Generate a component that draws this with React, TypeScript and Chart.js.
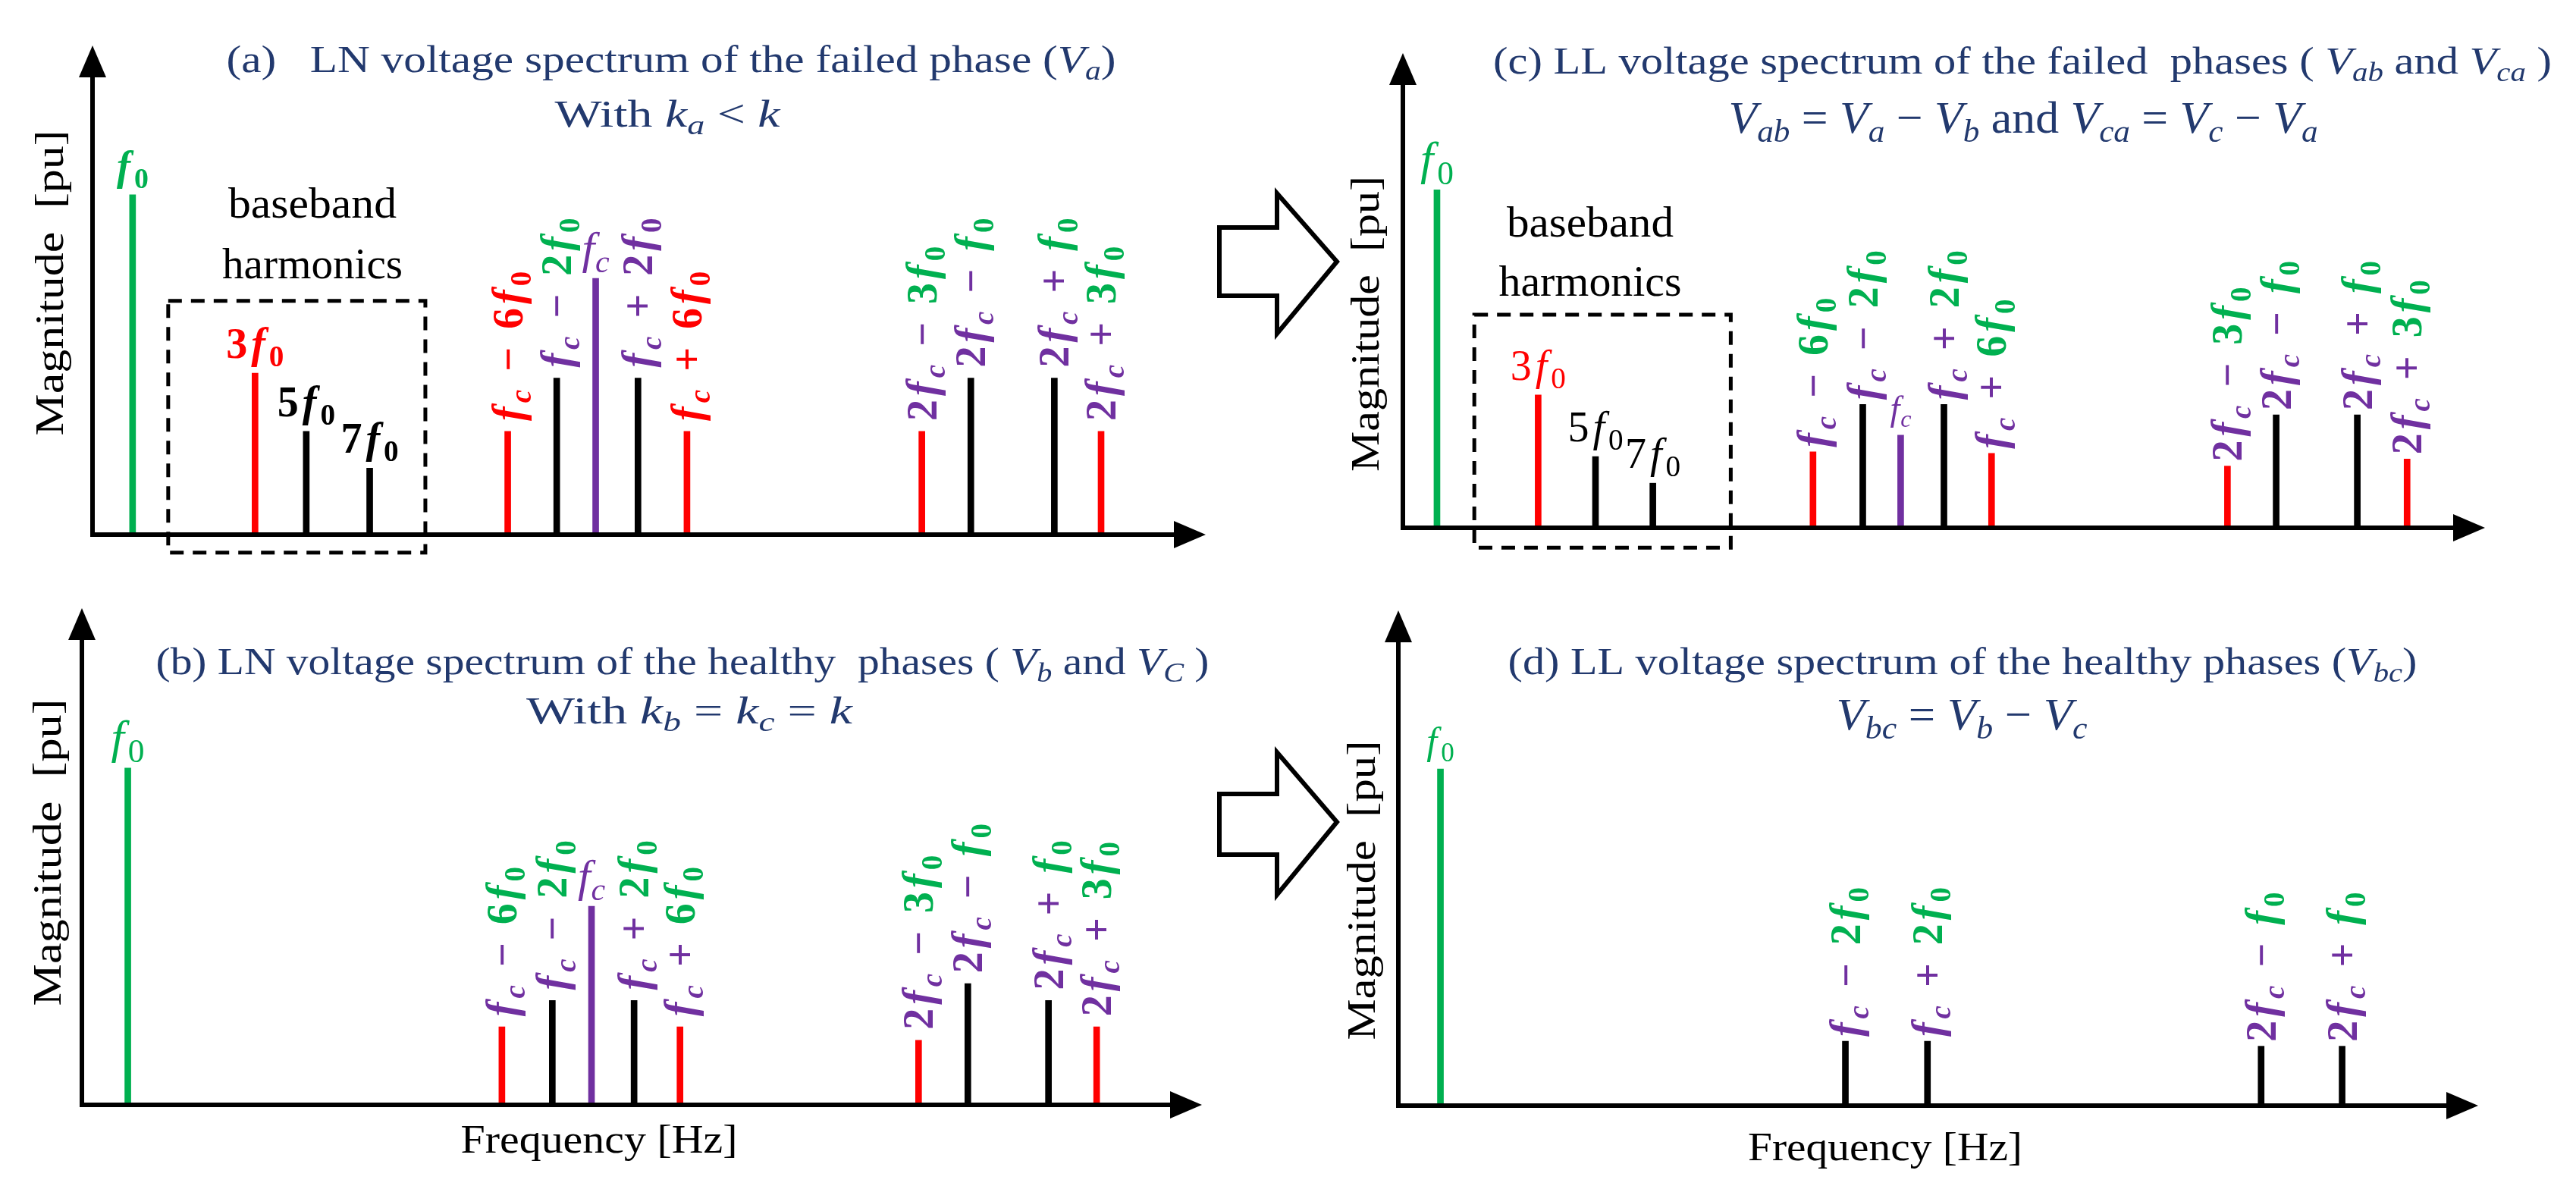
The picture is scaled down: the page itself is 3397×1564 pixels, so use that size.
import React, { useEffect, useRef } from "react";
import { Chart, registerables } from "chart.js";

Chart.register(...registerables);

const SERIF = '"Liberation Serif", "Times New Roman", serif';
const INK: Record<string, string> = {
  G: "#00B050",
  R: "#FF0000",
  P: "#7030A0",
  K: "#000000",
  T: "#22396E",
};

type Seg = [string, string];

// ---------- panel (a): LN spectrum, failed phase ----------
const A_POS = [3.6, 14.6, 19.2, 24.9, 37.3, 41.7, 45.2, 49.0, 53.4, 74.5, 78.9, 86.4, 90.6];
const A_MAG = [0.695, 0.33, 0.211, 0.136, 0.211, 0.32, 0.524, 0.32, 0.211, 0.211, 0.32, 0.32, 0.211];
const A_BAR = ["G", "R", "K", "K", "R", "K", "P", "K", "R", "R", "K", "K", "R"];
const A_LBL: Seg[][] = [
  [["f_0", "G"]],
  [["3f_0", "R"]],
  [["5f_0", "K"]],
  [["7f_0", "K"]],
  [["f_c − 6f_0", "R"]],
  [["f_c − ", "P"], ["2f_0", "G"]],
  [["f_c", "P"]],
  [["f_c + 2f_0", "P"]],
  [["f_c + 6f_0", "R"]],
  [["2f_c − ", "P"], ["3f_0", "G"]],
  [["2f_c − ", "P"], ["f_0", "G"]],
  [["2f_c + ", "P"], ["f_0", "G"]],
  [["2f_c + ", "P"], ["3f_0", "G"]],
];

// ---------- panel (b): LN spectrum, healthy phases ----------
const B_POS = [4.1, 37.5, 42.0, 45.5, 49.3, 53.4, 74.7, 79.1, 86.3, 90.6];
const B_MAG = [0.678, 0.157, 0.21, 0.4, 0.21, 0.157, 0.13, 0.244, 0.21, 0.157];
const B_BAR = ["G", "R", "K", "P", "K", "R", "R", "K", "K", "R"];
const B_LBL: Seg[][] = [
  [["f_0", "G"]],
  [["f_c − ", "P"], ["6f_0", "G"]],
  [["f_c − ", "P"], ["2f_0", "G"]],
  [["f_c", "P"]],
  [["f_c + ", "P"], ["2f_0", "G"]],
  [["f_c + ", "P"], ["6f_0", "G"]],
  [["2f_c − ", "P"], ["3f_0", "G"]],
  [["2f_c − ", "P"], ["f_0", "G"]],
  [["2f_c + ", "P"], ["f_0", "G"]],
  [["2f_c + ", "P"], ["3f_0", "G"]],
];

// ---------- panel (c): LL spectrum, failed phases ----------
const C_POS = [3.15, 12.5, 17.8, 23.1, 37.9, 42.5, 46.0, 50.0, 54.4, 76.2, 80.7, 88.2, 92.8];
const C_MAG = [0.712, 0.28, 0.15, 0.094, 0.16, 0.26, 0.195, 0.26, 0.157, 0.13, 0.238, 0.238, 0.145];
const C_BAR = ["G", "R", "K", "K", "R", "K", "P", "K", "R", "R", "K", "K", "R"];
const C_LBL: Seg[][] = [
  [["f_0", "G"]],
  [["3f_0", "R"]],
  [["5f_0", "K"]],
  [["7f_0", "K"]],
  [["f_c − ", "P"], ["6f_0", "G"]],
  [["f_c − ", "P"], ["2f_0", "G"]],
  [["f_c", "P"]],
  [["f_c + ", "P"], ["2f_0", "G"]],
  [["f_c + ", "P"], ["6f_0", "G"]],
  [["2f_c − ", "P"], ["3f_0", "G"]],
  [["2f_c − ", "P"], ["f_0", "G"]],
  [["2f_c + ", "P"], ["f_0", "G"]],
  [["2f_c + ", "P"], ["3f_0", "G"]],
];

// ---------- panel (d): LL spectrum, healthy phases ----------
const D_POS = [3.9, 41.4, 49.0, 79.9, 87.4];
const D_MAG = [0.68, 0.13, 0.13, 0.12, 0.12];
const D_BAR = ["G", "K", "K", "K", "K"];
const D_LBL: Seg[][] = [
  [["f_0", "G"]],
  [["f_c − ", "P"], ["2f_0", "G"]],
  [["f_c + ", "P"], ["2f_0", "G"]],
  [["2f_c − ", "P"], ["f_0", "G"]],
  [["2f_c + ", "P"], ["f_0", "G"]],
];

const Y_LABEL = "Magnitude  [pu]";
const X_LABEL = "Frequency [Hz]";
const BASEBAND = ["baseband", "harmonics"];

const W = 3397;
const ROW_H = 782;

interface Panel {
  id: string;
  row: number;
  xs: number[];
  ys: number[];
  bar: string[];
  lbl: Seg[][];
  pad: { left: number; top: number; right: number; bottom: number };
  titles: { text: string; x: number; y: number; w: number; size: number }[];
  yTitle: { x: number; y: number; len: number };
  xTitle?: { x: number; y: number; w: number };
  box?: { x0: number; x1: number; y0: number; y1: number };
  notes?: { x: number; y: number; w: number }[];
  arrow?: { left: number; sTop: number; sBot: number; hx: number; hTop: number; hBot: number; tx: number; ty: number };
  st: { f0Size: number; fcSize: number; hSize: number; hBold: boolean; f0Bold: boolean; vSize: number; vGap: number; hGap: number };
}

const PANELS: Panel[] = [
  {
    id: "a",
    row: 0,
    xs: A_POS,
    ys: A_MAG,
    bar: A_BAR,
    lbl: A_LBL,
    pad: { left: 122, top: 60, right: W - 1590, bottom: ROW_H - 705 },
    titles: [
      { text: "(a)   LN voltage spectrum of the failed phase ($V_a$)", x: 885, y: 95, w: 1173, size: 50 },
      { text: "With $k_a < k$", x: 880, y: 167, w: 297, size: 50 },
    ],
    yTitle: { x: 65, y: 373, len: 403 },
    box: { x0: 6.8, x1: 29.9, y0: -0.037, y1: 0.478 },
    notes: [
      { x: 412, y: 287, w: 222 },
      { x: 412, y: 367, w: 238 },
    ],
    st: { f0Size: 54, fcSize: 60, hSize: 56, hBold: true, f0Bold: true, vSize: 56, vGap: 14, hGap: 20 },
  },
  {
    id: "c",
    row: 0,
    xs: C_POS,
    ys: C_MAG,
    bar: C_BAR,
    lbl: C_LBL,
    pad: { left: 1850, top: 70, right: W - 3277, bottom: ROW_H - 696 },
    titles: [
      { text: "(c) LL voltage spectrum of the failed  phases ( $V_{ab}$ and $V_{ca}$ )", x: 2667, y: 97, w: 1396, size: 50 },
      { text: "$V_{ab} = V_a − V_b$ and $V_{ca} = V_c − V_a$", x: 2668, y: 175, w: 777, size: 60 },
    ],
    yTitle: { x: 1800, y: 427, len: 390 },
    box: { x0: 6.6, x1: 30.3, y0: -0.042, y1: 0.449 },
    notes: [
      { x: 2097, y: 312, w: 220 },
      { x: 2097, y: 390, w: 241 },
    ],
    arrow: { left: 1608, sTop: 300, sBot: 390, hx: 1684, hTop: 255, hBot: 440, tx: 1763, ty: 345 },
    st: { f0Size: 62, fcSize: 46, hSize: 56, hBold: false, f0Bold: false, vSize: 56, vGap: 6, hGap: 20 },
  },
  {
    id: "b",
    row: 1,
    xs: B_POS,
    ys: B_MAG,
    bar: B_BAR,
    lbl: B_LBL,
    pad: { left: 108, top: 20, right: W - 1585, bottom: ROW_H - 675 },
    titles: [
      { text: "(b) LN voltage spectrum of the healthy  phases ( $V_b$ and $V_C$ )", x: 900, y: 107, w: 1389, size: 50 },
      { text: "With $k_b = k_c = k$", x: 909, y: 172, w: 430, size: 50 },
    ],
    yTitle: { x: 62, y: 342, len: 405 },
    xTitle: { x: 790, y: 720, w: 365 },
    st: { f0Size: 62, fcSize: 60, hSize: 56, hBold: false, f0Bold: false, vSize: 56, vGap: 14, hGap: 20 },
  },
  {
    id: "d",
    row: 1,
    xs: D_POS,
    ys: D_MAG,
    bar: D_BAR,
    lbl: D_LBL,
    pad: { left: 1844, top: 23, right: W - 3268, bottom: ROW_H - 676 },
    titles: [
      { text: "(d) LL voltage spectrum of the healthy phases ($V_{bc}$)", x: 2588, y: 107, w: 1199, size: 50 },
      { text: "$V_{bc} = V_b − V_c$", x: 2587, y: 180, w: 331, size: 60 },
    ],
    yTitle: { x: 1795, y: 392, len: 395 },
    xTitle: { x: 2486, y: 730, w: 362 },
    arrow: { left: 1608, sTop: 265, sBot: 345, hx: 1684, hTop: 210, hBot: 398, tx: 1763, ty: 302 },
    st: { f0Size: 50, fcSize: 50, hSize: 56, hBold: false, f0Bold: false, vSize: 56, vGap: 6, hGap: 20 },
  },
];

// ---------- rich text helpers ----------
type Run = { t: string; it: boolean; sub: boolean; color: string };

function parseMarkup(src: string, color: string, mathAll: boolean): Run[] {
  const runs: Run[] = [];
  const parts = mathAll ? ["", src] : src.split("$");
  parts.forEach((part, idx) => {
    const math = idx % 2 === 1;
    if (!math) {
      if (part) runs.push({ t: part, it: false, sub: false, color });
      return;
    }
    for (let i = 0; i < part.length; i++) {
      const c = part[i];
      if (c === "_") {
        let grp = part[i + 1];
        if (grp === "{") {
          const end = part.indexOf("}", i);
          grp = part.slice(i + 2, end);
          i = end;
        } else {
          i += 1;
        }
        for (const g of grp) runs.push({ t: g, it: /[A-Za-z]/.test(g), sub: true, color });
      } else {
        runs.push({ t: c, it: /[A-Za-z]/.test(c), sub: false, color });
      }
    }
  });
  return runs;
}

interface RichOpts {
  x: number;
  y: number;
  size: number;
  bold?: boolean;
  rotate?: boolean;
  align?: "left" | "center";
  fit?: number;
  track?: number;
  middle?: boolean;
}

function drawRich(ctx: CanvasRenderingContext2D, runs: Run[], o: RichOpts) {
  const subK = 0.7;
  const fontOf = (r: Run) =>
    `${r.it ? "italic " : ""}${o.bold ? "bold " : ""}${(r.sub ? o.size * subK : o.size).toFixed(1)}px ${SERIF}`;
  const track = o.track ?? 0;
  const widths = runs.map((r) => {
    ctx.font = fontOf(r);
    return ctx.measureText(r.t).width;
  });
  const total = widths.reduce((a, b) => a + b, 0) + track * Math.max(0, runs.length - 1);
  const sx = o.fit ? o.fit / total : 1;
  ctx.save();
  ctx.translate(o.x, o.y);
  if (o.rotate) ctx.rotate(-Math.PI / 2);
  ctx.scale(sx, 1);
  ctx.textBaseline = "alphabetic";
  ctx.textAlign = "left";
  let cx = o.align === "center" ? -total / 2 : 0;
  const by = o.middle ? o.size * 0.34 : 0;
  runs.forEach((r, i) => {
    ctx.font = fontOf(r);
    ctx.fillStyle = r.color;
    ctx.fillText(r.t, cx, by + (r.sub ? o.size * 0.2 : 0));
    cx += widths[i] + track;
  });
  ctx.restore();
}

function decorPlugin(p: Panel) {
  return {
    id: "decor_" + p.id,
    afterDatasetsDraw(chart: any) {
      const ctx: CanvasRenderingContext2D = chart.ctx;
      const ca = chart.chartArea;
      const xs = chart.scales.x;
      const ys = chart.scales.y;
      const st = p.st;

      ctx.save();
      // dashed baseband box
      if (p.box) {
        const l = xs.getPixelForValue(p.box.x0);
        const r = xs.getPixelForValue(p.box.x1);
        const t = ys.getPixelForValue(p.box.y1);
        const b = ys.getPixelForValue(p.box.y0);
        ctx.setLineDash([18, 12]);
        ctx.lineWidth = 5;
        ctx.strokeStyle = "#000";
        ctx.strokeRect(l, t, r - l, b - t);
        ctx.setLineDash([]);
      }

      // axes with arrow heads
      const lw = 6;
      const aLen = 42;
      const aHalf = 18;
      ctx.strokeStyle = "#000";
      ctx.fillStyle = "#000";
      ctx.lineWidth = lw;
      ctx.lineCap = "butt";
      ctx.beginPath();
      ctx.moveTo(ca.left, ca.bottom + lw / 2);
      ctx.lineTo(ca.left, ca.top + aLen - 2);
      ctx.moveTo(ca.left - lw / 2, ca.bottom);
      ctx.lineTo(ca.right - aLen + 2, ca.bottom);
      ctx.stroke();
      ctx.beginPath();
      ctx.moveTo(ca.left, ca.top);
      ctx.lineTo(ca.left - aHalf, ca.top + aLen);
      ctx.lineTo(ca.left + aHalf, ca.top + aLen);
      ctx.closePath();
      ctx.fill();
      ctx.beginPath();
      ctx.moveTo(ca.right, ca.bottom);
      ctx.lineTo(ca.right - aLen, ca.bottom - aHalf);
      ctx.lineTo(ca.right - aLen, ca.bottom + aHalf);
      ctx.closePath();
      ctx.fill();

      // block arrow between panels
      if (p.arrow) {
        const a = p.arrow;
        ctx.beginPath();
        ctx.moveTo(a.left, a.sTop);
        ctx.lineTo(a.hx, a.sTop);
        ctx.lineTo(a.hx, a.hTop);
        ctx.lineTo(a.tx, a.ty);
        ctx.lineTo(a.hx, a.hBot);
        ctx.lineTo(a.hx, a.sBot);
        ctx.lineTo(a.left, a.sBot);
        ctx.closePath();
        ctx.fillStyle = "#fff";
        ctx.fill();
        ctx.lineWidth = 6;
        ctx.lineJoin = "miter";
        ctx.strokeStyle = "#000";
        ctx.stroke();
      }

      // bar labels
      const meta = chart.getDatasetMeta(0);
      meta.data.forEach((el: any, i: number) => {
        const segs = p.lbl[i];
        if (!segs) return;
        const runs = segs.flatMap(([t, k]) => parseMarkup(t, INK[k], true));
        const plain = segs.map((s) => s[0]).join("");
        const vertical = /[−+]/.test(plain);
        if (vertical) {
          drawRich(ctx, runs, {
            x: el.x,
            y: el.y - st.vGap,
            size: st.vSize,
            bold: true,
            rotate: true,
            align: "left",
            track: 5,
            middle: true,
          });
        } else {
          const isF0 = plain === "f_0";
          const isFc = plain === "f_c";
          const size = isF0 ? st.f0Size : isFc ? st.fcSize : st.hSize;
          const bold = isF0 ? st.f0Bold : isFc ? false : st.hBold;
          drawRich(ctx, runs, {
            x: el.x,
            y: el.y - st.hGap,
            size,
            bold,
            align: "center",
            track: isFc ? 1 : 5,
          });
        }
      });

      // titles
      p.titles.forEach((t) => {
        drawRich(ctx, parseMarkup(t.text, INK.T, false), {
          x: t.x,
          y: t.y,
          size: t.size,
          align: "center",
          fit: t.w,
        });
      });

      // axis titles
      drawRich(ctx, parseMarkup(Y_LABEL, "#000", false), {
        x: p.yTitle.x,
        y: p.yTitle.y,
        size: 52,
        rotate: true,
        align: "center",
        middle: true,
        fit: p.yTitle.len,
      });
      if (p.xTitle) {
        drawRich(ctx, parseMarkup(X_LABEL, "#000", false), {
          x: p.xTitle.x,
          y: p.xTitle.y,
          size: 52,
          align: "center",
          middle: true,
          fit: p.xTitle.w,
        });
      }

      // baseband harmonics note
      if (p.notes) {
        p.notes.forEach((n, i) => {
          drawRich(ctx, parseMarkup(BASEBAND[i], "#000", false), {
            x: n.x,
            y: n.y,
            size: 56,
            align: "center",
            fit: n.w,
          });
        });
      }
      ctx.restore();
    },
  };
}

function makeChart(canvas: HTMLCanvasElement, p: Panel) {
  const data = p.xs.map((x, i) => ({ x, y: p.ys[i] }));
  return new Chart(canvas, {
    type: "bar",
    data: {
      datasets: [
        {
          data: data as any,
          backgroundColor: p.bar.map((k) => INK[k]),
          barThickness: 8,
          borderWidth: 0,
        },
      ],
    },
    options: {
      animation: false,
      responsive: false,
      maintainAspectRatio: false,
      events: [],
      layout: { padding: p.pad },
      plugins: {
        legend: { display: false },
        tooltip: { enabled: false },
        title: { display: false },
      },
      scales: {
        x: { type: "linear", min: 0, max: 100, display: false, offset: false },
        y: { type: "linear", min: 0, max: 1, display: false },
      },
    },
    plugins: [decorPlugin(p) as any],
  });
}

export default function App() {
  const refs = useRef<(HTMLCanvasElement | null)[]>([]);
  useEffect(() => {
    document.body.style.margin = "0";
    document.body.style.background = "#fff";
    const charts = PANELS.map((p, i) => makeChart(refs.current[i] as HTMLCanvasElement, p));
    return () => charts.forEach((c) => c.destroy());
  }, []);
  return (
    <div style={{ position: "relative", width: W, height: ROW_H * 2, overflow: "hidden", background: "#fff" }}>
      {PANELS.map((p, i) => (
        <canvas
          key={p.id}
          ref={(el) => {
            refs.current[i] = el;
          }}
          width={W}
          height={ROW_H}
          style={{ position: "absolute", left: 0, top: p.row * ROW_H, width: W, height: ROW_H }}
        />
      ))}
    </div>
  );
}
